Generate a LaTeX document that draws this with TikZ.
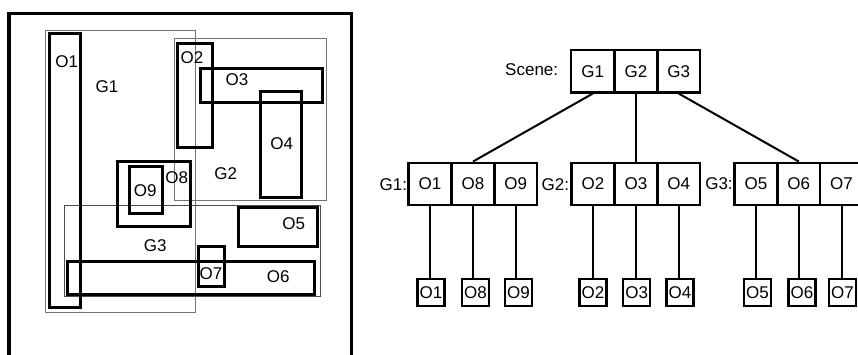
\documentclass[tikz,border=0pt]{standalone}
\usepackage{fontspec}
\setmainfont{Liberation Sans}
\begin{document}
\begin{tikzpicture}[x=1pt,y=-1pt,
  obj/.style={line width=3pt},
  grp/.style={line width=1pt,draw=black!55},
  lbl/.style={inner sep=0pt,font=\fontsize{17}{19}\selectfont},
  cell/.style={draw,line width=2.2pt,minimum width=43pt,minimum height=42.3pt,inner sep=0pt,font=\fontsize{17}{19}\selectfont},
  leaf/.style={draw,line width=2.2pt,minimum width=27pt,minimum height=27pt,inner sep=0pt,font=\fontsize{17}{19}\selectfont},
  edge/.style={line width=2pt}]
\useasboundingbox (0,0) rectangle (858,355);
\fill[white] (0,0) rectangle (858,355);
% left panel frame
\draw[line width=3.5pt] (9,360) -- (9,13.5) -- (351.5,13.5) -- (351.5,360);
% groups
\draw[grp] (45,31) rectangle (195,312);
\draw[grp] (174.3,38.3) rectangle (326,201);
\draw[grp,draw=black!70] (64,205.3) rectangle (320.7,296.7);
% objects
\draw[obj] (49.3,34) rectangle (80,307.3);
\draw[obj] (177.7,44) rectangle (212.3,147.7);
\draw[obj] (200,68.7) rectangle (322.7,102.3);
\draw[obj] (260,92) rectangle (301.3,197.3);
\draw[obj] (238.7,208) rectangle (317.7,246);
\draw[obj] (67.3,261) rectangle (314.3,294);
\draw[obj] (198.7,246.7) rectangle (224,286);
\draw[obj] (117.3,161.3) rectangle (190,226.3);
\draw[obj] (129.3,166.7) rectangle (162.7,214);
% labels
\node[lbl] (tO1) at (66.7,61.7) {O1};
\node[lbl] (tG1) at (107,87) {G1};
\node[lbl] (tO2) at (192,58) {O2};
\node[lbl] (tO3) at (237,80) {O3};
\node[lbl] (tO4) at (281.7,144) {O4};
\node[lbl] (tG2) at (225.7,173.3) {G2};
\node[lbl] (tO8) at (176.7,177.7) {O8};
\node[lbl] (tO9) at (145.3,190.7) {O9};
\node[lbl] (tO5) at (293.7,223.3) {O5};
\node[lbl] (tG3) at (155.3,246) {G3};
\node[lbl] (tO7) at (211,274) {O7};
\node[lbl] (tO6) at (278.3,276.7) {O6};
% tree: scene
\node[lbl] (scn) at (531.7,69.3) {Scene:};
\node[cell] (s1) at (592.8,71.3) {G1};
\node[cell] (s2) at (636,71.3) {G2};
\node[cell] (s3) at (678.7,71.3) {G3};
% group rows
\node[lbl] (g1l) at (393.3,185) {G1:};
\node[cell] (a1) at (430,183.8) {O1};
\node[cell] (a8) at (473,183.8) {O8};
\node[cell] (a9) at (515.7,183.8) {O9};
\node[lbl] (g2l) at (555.3,185) {G2:};
\node[cell] (b2) at (593,183.8) {O2};
\node[cell] (b3) at (636,183.8) {O3};
\node[cell] (b4) at (678.7,183.8) {O4};
\node[lbl] (g3l) at (719,183.3) {G3:};
\node[cell] (c5) at (756,183.8) {O5};
\node[cell] (c6) at (798.8,183.8) {O6};
\node[cell] (c7) at (841.5,183.8) {O7};
% leaves
\node[leaf] (l1) at (431,292.3) {O1};
\node[leaf] (l8) at (475.5,292.3) {O8};
\node[leaf] (l9) at (518.5,292.3) {O9};
\node[leaf] (l2) at (593,292.3) {O2};
\node[leaf] (l3) at (636.7,292.3) {O3};
\node[leaf] (l4) at (680,292.3) {O4};
\node[leaf] (l5) at (757.5,292.3) {O5};
\node[leaf] (l6) at (802,292.3) {O6};
\node[leaf] (l7) at (842.5,292.3) {O7};
% connectors
\draw[edge] (s1.south) -- (a8.north);
\draw[edge] (s2.south) -- (b3.north);
\draw[edge] (s3.south) -- (c6.north);
\draw[edge] (a1.south) -- (a1.south |- l1.north);
\draw[edge] (a8.south) -- (a8.south |- l8.north);
\draw[edge] (a9.south) -- (a9.south |- l9.north);
\draw[edge] (b2.south) -- (b2.south |- l2.north);
\draw[edge] (b3.south) -- (b3.south |- l3.north);
\draw[edge] (b4.south) -- (b4.south |- l4.north);
\draw[edge] (c5.south) -- (c5.south |- l5.north);
\draw[edge] (c6.south) -- (c6.south |- l6.north);
\draw[edge] (c7.south) -- (c7.south |- l7.north);
\end{tikzpicture}
\end{document}
